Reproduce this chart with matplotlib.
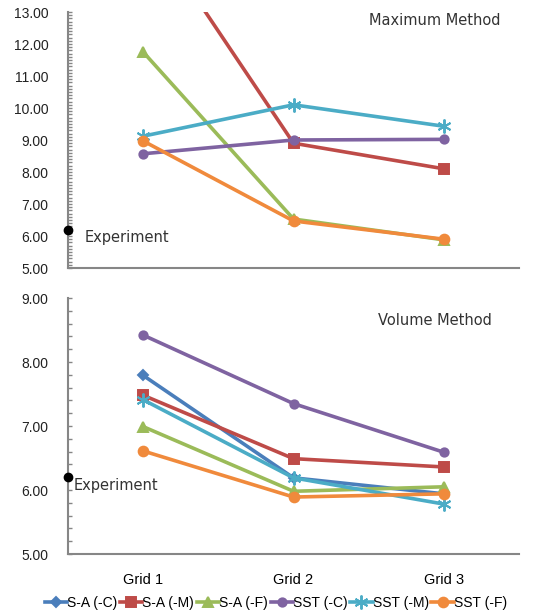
import matplotlib.pyplot as plt
from matplotlib.ticker import MultipleLocator

grids = ['Grid 1', 'Grid 2', 'Grid 3']
names = ['S-A (-C)', 'S-A (-M)', 'S-A (-F)', 'SST (-C)', 'SST (-M)', 'SST (-F)']
colors = ['#4A7EBB', '#BE4B48', '#9BBB59', '#7F63A1', '#4BACC6', '#F08A3C']
markers = ['D', 's', '^', 'o', (6, 2, 0), 'o']
msizes = [5, 7, 7, 6, 10, 7]

# maximum method (S-A (-C) is off the scale)
max_sa_c = [18.5, 14.6, 13.8]
max_sa_m = [15.9, 8.90, 8.10]
max_sa_f = [11.75, 6.53, 5.88]
max_sst_c = [8.57, 9.00, 9.02]
max_sst_m = [9.12, 10.10, 9.43]
max_sst_f = [8.97, 6.47, 5.90]

# volume method
vol_sa_c = [7.79, 6.19, 5.94]
vol_sa_m = [7.48, 6.49, 6.36]
vol_sa_f = [6.99, 5.98, 6.05]
vol_sst_c = [8.42, 7.35, 6.59]
vol_sst_m = [7.41, 6.19, 5.78]
vol_sst_f = [6.61, 5.89, 5.94]

experiment = 6.2

max_data = [max_sa_c, max_sa_m, max_sa_f, max_sst_c, max_sst_m, max_sst_f]
vol_data = [vol_sa_c, vol_sa_m, vol_sa_f, vol_sst_c, vol_sst_m, vol_sst_f]

plt.rcParams['font.family'] = ['Liberation Sans', 'DejaVu Sans']

fig = plt.figure(figsize=(5.41, 6.15), dpi=100)
W, H = 541, 615
ax1 = fig.add_axes([68 / W, 1 - 268 / H, 451 / W, 256 / H])
ax2 = fig.add_axes([68 / W, 1 - 554 / H, 451 / W, 256 / H])

xs = [0.5, 1.5, 2.5]


def style(ax, lo, hi, minor):
    ax.set_xlim(0, 3)
    ax.set_ylim(lo, hi)
    for s in ['top', 'right']:
        ax.spines[s].set_visible(False)
    for s in ['left', 'bottom']:
        ax.spines[s].set_color('#868686')
        ax.spines[s].set_linewidth(1.5)
    ax.yaxis.set_major_locator(MultipleLocator(1))
    ax.yaxis.set_minor_locator(MultipleLocator(minor))
    ax.yaxis.set_major_formatter(lambda v, p: f'{v:.2f}')
    ax.tick_params(axis='y', which='both', direction='in', length=3,
                   color='#868686', width=1, labelsize=10, pad=14,
                   labelcolor='#222222')
    ax.tick_params(axis='x', length=0)


for ax, data in [(ax1, max_data), (ax2, vol_data)]:
    for vals, name, c, m, ms in zip(data, names, colors, markers, msizes):
        ax.plot(xs, vals, color=c, lw=2.6, marker=m, ms=ms,
                mec=c, mfc=c, mew=1.4, label=name)
    ax.plot([0], [experiment], 'o', color='black', ms=6, clip_on=False, zorder=5)

style(ax1, 5, 13, 0.1)
style(ax2, 5, 9, 0.2)
ax1.set_xticks([])
ax2.set_xticks(xs)
ax2.set_xticklabels(grids, fontsize=10.5)
ax2.tick_params(axis='x', pad=14)

ax1.text(0.96, 0.995, 'Maximum Method', transform=ax1.transAxes, ha='right',
         va='top', fontsize=10.5, color='#333333', family='DejaVu Sans')
ax2.text(0.94, 0.94, 'Volume Method', transform=ax2.transAxes, ha='right',
         va='top', fontsize=10.5, color='#333333', family='DejaVu Sans')
ax1.text(0.11, experiment - 0.02, 'Experiment', fontsize=10.5, va='top',
         color='#333333', family='DejaVu Sans')
ax2.text(0.04, experiment - 0.02, 'Experiment', fontsize=10.5, va='top',
         color='#333333', family='DejaVu Sans')

handles, labels = ax2.get_legend_handles_labels()
fig.legend(handles[:6], labels[:6], loc='center', bbox_to_anchor=(0.51, 1 - 603 / H),
           ncol=6, frameon=False, fontsize=10, handlelength=1.6,
           handletextpad=0.0, columnspacing=0.2, borderaxespad=0)

fig.savefig('out.png', dpi=100)
